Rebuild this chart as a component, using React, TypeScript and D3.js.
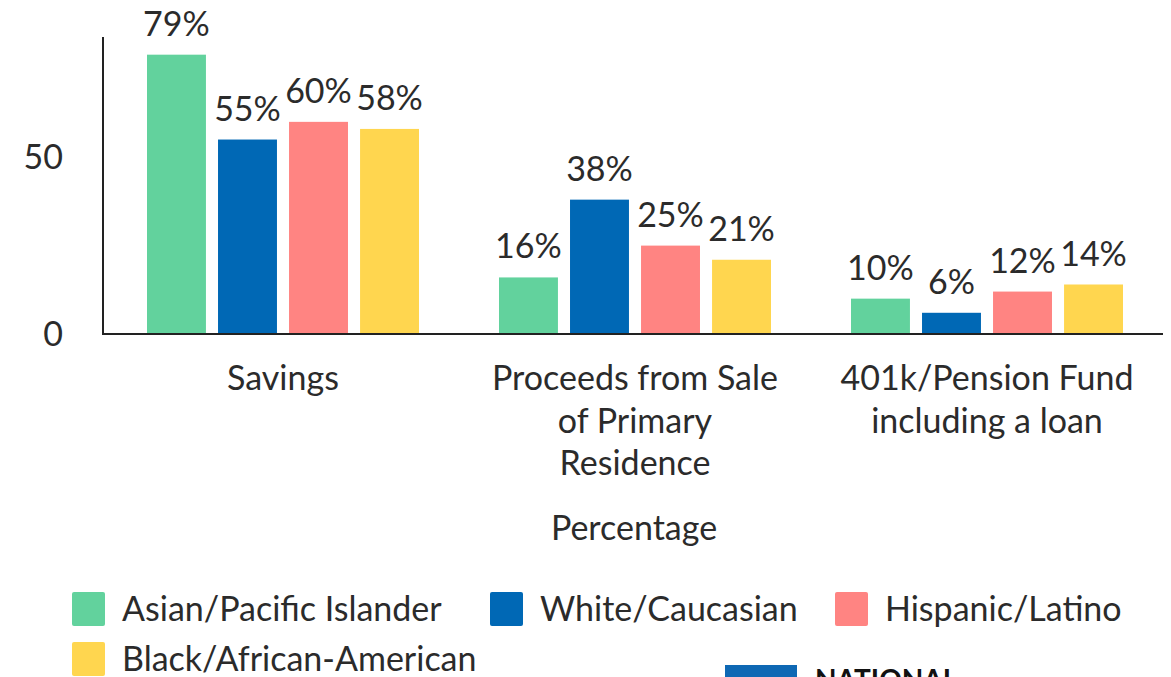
import React from "react";
import * as d3 from "d3";

const categories = ["Savings", "Proceeds from Sale of Primary Residence", "401k/Pension Fund including a loan"];
const categoryLines = [["Savings"], ["Proceeds from Sale", "of Primary", "Residence"], ["401k/Pension Fund", "including a loan"]];
const seriesNames = ["Asian/Pacific Islander", "White/Caucasian", "Hispanic/Latino", "Black/African-American"];
const seriesColors = ["#62D29D", "#0068B5", "#FF8482", "#FFD64F"];
const asianPacific = [79, 16, 10];
const whiteCaucasian = [55, 38, 6];
const hispanicLatino = [60, 25, 12];
const blackAfricanAmerican = [58, 21, 14];
const yTicks = [0, 50];

const seriesValues = [asianPacific, whiteCaucasian, hispanicLatino, blackAfricanAmerican];

const W = 1171;
const H = 677;
const FONT = "Lato, 'Noto Sans', sans-serif";
const TEXT = "#2b2b2b";
const FS = 34;

export default function App() {
  const x0 = d3.scaleBand().domain(categories).range([107, 1163]).padding(0);
  const x1 = d3
    .scaleBand()
    .domain(seriesNames)
    .range([40, x0.bandwidth() - 40])
    .paddingInner(0.17)
    .paddingOuter(0);
  const y = d3.scaleLinear().domain([0, 84]).range([334, 37]);

  const legendRows = [
    [
      { name: seriesNames[0], x: 72 },
      { name: seriesNames[1], x: 490 },
      { name: seriesNames[2], x: 835 },
    ],
    [{ name: seriesNames[3], x: 72 }],
  ];

  return (
    <svg
      width={W}
      height={H}
      style={{ position: "absolute", left: 0, top: 0, background: "#fff" }}
      fontFamily={FONT}
    >
      {/* bars and value labels */}
      {categories.map((cat, ci) => (
        <g key={cat} transform={`translate(${x0(cat)},0)`}>
          {seriesNames.map((s, si) => {
            const v = seriesValues[si][ci];
            const bx = x1(s)!;
            return (
              <g key={s}>
                <rect
                  x={bx}
                  y={y(v)}
                  width={x1.bandwidth()}
                  height={y(0) - y(v)}
                  fill={seriesColors[si]}
                />
                <text
                  x={bx + x1.bandwidth() / 2}
                  y={y(v) - 19}
                  textAnchor="middle"
                  fontSize={FS}
                  fill={TEXT}
                >
                  {v}%
                </text>
              </g>
            );
          })}
        </g>
      ))}

      {/* axes */}
      <line x1={103} x2={103} y1={37} y2={335} stroke="#222" strokeWidth={2} />
      <line x1={102} x2={1163} y1={334} y2={334} stroke="#222" strokeWidth={2} />
      {yTicks.map((t) => (
        <text key={t} x={63} y={y(t)} dy="0.35em" textAnchor="end" fontSize={FS} fill={TEXT}>
          {t}
        </text>
      ))}

      {/* category labels */}
      {categories.map((cat, ci) => (
        <text
          key={cat}
          x={x0(cat)! + x0.bandwidth() / 2}
          y={390}
          textAnchor="middle"
          fontSize={FS}
          fill={TEXT}
        >
          {categoryLines[ci].map((ln, li) => (
            <tspan key={li} x={x0(cat)! + x0.bandwidth() / 2} dy={li === 0 ? 0 : 42.5}>
              {ln}
            </tspan>
          ))}
        </text>
      ))}

      <text x={634} y={540} textAnchor="middle" fontSize={FS} fill={TEXT}>
        Percentage
      </text>

      {/* legend */}
      {legendRows.map((row, ri) =>
        row.map((item) => {
          const si = seriesNames.indexOf(item.name);
          const cy = 609 + ri * 50;
          return (
            <g key={item.name}>
              <rect x={item.x} y={cy - 17} width={33} height={34} rx={2} fill={seriesColors[si]} />
              <text x={item.x + 50} y={cy} dy="0.35em" fontSize={FS} fill={TEXT}>
                {item.name}
              </text>
            </g>
          );
        })
      )}

      {/* logo fragment */}
      <rect x={725} y={665} width={72} height={20} fill="#0E68B4" />
      <text x={815} y={690} fontSize={28} fontWeight={700} fill="#111">
        NATIONAL
      </text>
    </svg>
  );
}
